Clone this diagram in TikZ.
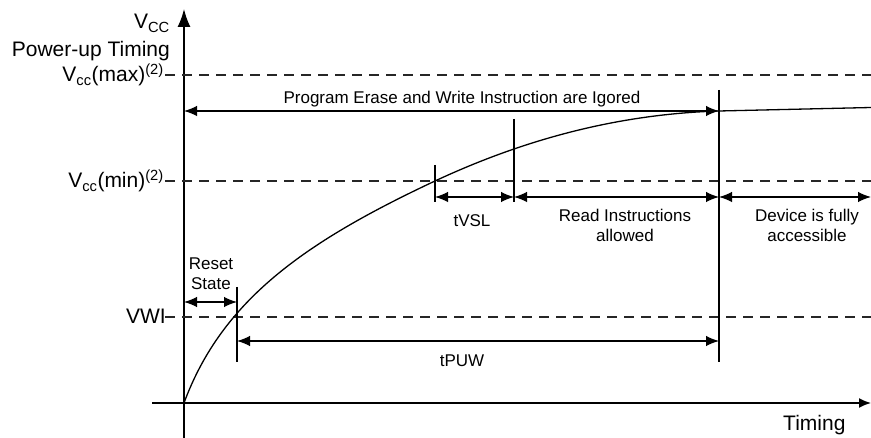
\documentclass[tikz,border=0pt]{standalone}
\usepackage{fontspec}
\setmainfont{Liberation Sans}
\usetikzlibrary{arrows.meta}
\tikzset{>={Latex[length=13pt,width=10.5pt]}}
\tikzset{
  biglbl/.style={font=\fontsize{21}{24}\selectfont, inner sep=0pt},
  smalllbl/.style={font=\fontsize{17}{20}\selectfont, inner sep=0pt, align=center},
  dashlvl/.style={dash pattern=on 10pt off 7pt, line width=1.3pt, black!85},
  edgeline/.style={line width=1.3pt},
  dimarrow/.style={<->, line width=1.3pt}
}

\begin{document}
\begin{tikzpicture}[x=1pt, y=-1pt]
\useasboundingbox (0,0) rectangle (871,438);
% axes
\coordinate (ytop) at (184,9);
\coordinate (ybot) at (184,438);
\coordinate (xl) at (152,403);
\coordinate (xr) at (871,403);
\draw[line width=1.6pt, -{Latex[length=18pt,width=13pt]}] (ybot) -- (ytop);
\draw[line width=1.6pt, -{Latex[length=12pt,width=10pt]}] (xl) -- (xr);

% levels
\coordinate (maxL) at (165,75);  \coordinate (maxR) at (871,75);
\coordinate (minL) at (165,181); \coordinate (minR) at (871,181);
\coordinate (vwiL) at (165,317); \coordinate (vwiR) at (871,317);
\draw[dashlvl] (maxL) -- (maxR);
\draw[dashlvl] (minL) -- (minR);
\draw[dashlvl] (vwiL) -- (vwiR);

\node[biglbl, anchor=base east] (vcc) at (170,29) {V\textsubscript{CC}};
\node[biglbl, anchor=base east] (title) at (170,57) {Power-up Timing};
\node[biglbl, anchor=base east] (vmax) at (164,82) {V\textsubscript{cc}(max)\textsuperscript{(2)}};
\node[biglbl, anchor=base east] (vmin) at (164,188) {V\textsubscript{cc}(min)\textsuperscript{(2)}};
\node[biglbl, anchor=base east] (vwi) at (166,324) {VWI};
\node[biglbl, anchor=base west] (timing) at (783,431) {Timing};

% supply ramp
\draw[line width=1.3pt] (184,403) .. controls (222,300) and (305,242) .. (435,181)
  .. controls (525,139) and (619,114) .. (719,111) -- (871,107.5);

% markers
\coordinate (aT) at (237,287); \coordinate (aB) at (237,362);
\coordinate (bT) at (435,165); \coordinate (bB) at (435,202);
\coordinate (cT) at (514,119); \coordinate (cB) at (514,202);
\coordinate (dT) at (719,90);  \coordinate (dB) at (719,362);
\draw[edgeline] (aT) -- (aB);
\draw[edgeline] (bT) -- (bB);
\draw[edgeline] (cT) -- (cB);
\draw[edgeline] (dT) -- (dB);

% spans
\coordinate (pgmL) at (184,111); \coordinate (pgmR) at (719,111);
\coordinate (rstL) at (184,302); \coordinate (rstR) at (237,302);
\coordinate (puwL) at (237,341); \coordinate (puwR) at (719,341);
\coordinate (vslL) at (435,197); \coordinate (vslR) at (514,197);
\coordinate (rdR) at (719,197);  \coordinate (devR) at (871,197);
\draw[dimarrow] (pgmL) -- (pgmR);
\draw[dimarrow] (rstL) -- (rstR);
\draw[dimarrow] (puwL) -- (puwR);
\draw[dimarrow] (vslL) -- (vslR);
\draw[dimarrow] (vslR) -- (rdR);
\draw[dimarrow] (rdR) -- (devR);

\node[smalllbl, anchor=base] (pgm) at (462,104) {Program Erase and Write Instruction are Igored};
\node[smalllbl, anchor=base] (rst) at (211,290) {Reset\\State};
\node[smalllbl, anchor=base] (puw) at (462,367) {tPUW};
\node[smalllbl, anchor=base] (vsl) at (472,227) {tVSL};
\node[smalllbl, anchor=base] (rd) at (625,242) {Read Instructions\\allowed};
\node[smalllbl, anchor=base] (dev) at (807,242) {Device is fully\\accessible};
\end{tikzpicture}
\end{document}
